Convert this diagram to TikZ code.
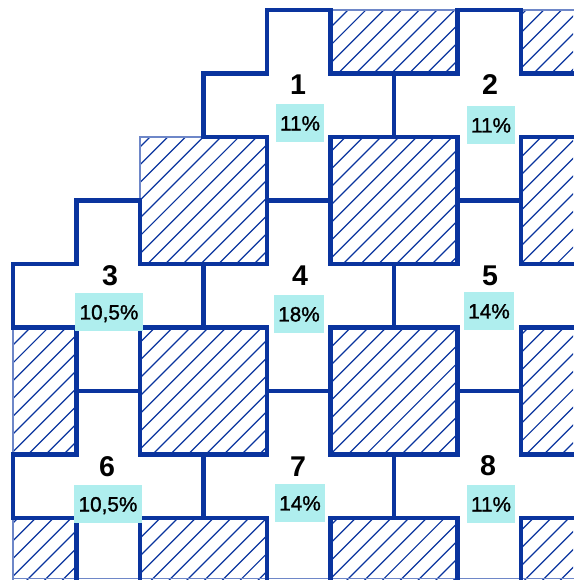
\documentclass[tikz,border=0pt]{standalone}
\usepackage{fontspec}
\setmainfont{Liberation Sans}
\newfontfamily\semiboldsans[FakeBold=1.3]{Liberation Sans}
\definecolor{lineblue}{RGB}{10,52,158}
\definecolor{thinblue}{RGB}{110,135,200}
\definecolor{boxcyan}{RGB}{175,238,238}
\begin{document}
\begin{tikzpicture}[x=1cm,y=-1cm,
  wall/.style={draw=lineblue, line width=1.8pt, line cap=rect, line join=miter},
  thinedge/.style={draw=thinblue, line width=0.6pt},
  hatchline/.style={draw=lineblue, line width=0.55pt},
  cellnum/.style={font=\fontsize{12.8}{15}\selectfont\bfseries, inner sep=0pt},
  share/.style={fill=boxcyan, font=\semiboldsans\fontsize{9.3}{11}\selectfont, inner xsep=1.9pt, inner ysep=0pt,
    text height=6.7pt, text depth=0pt, minimum height=16.8pt}]
\useasboundingbox (-0.2047,-0.1575) rectangle (8.8189,8.9764);

% hatching
\begin{scope}
  \clip (-0.2047,-0.1575) rectangle (8.8189,8.9764);
  \clip (2,2) rectangle (4,4) (5,2) rectangle (7,4) (2,5) rectangle (4,7) (5,5) rectangle (7,7)
        (2,8) rectangle (4,10) (5,8) rectangle (7,10) (8,2) rectangle (10,4) (8,5) rectangle (10,7)
        (8,8) rectangle (10,10) (0,5) rectangle (1,7) (0,8) rectangle (1,10)
        (5,0) rectangle (7,1) (8,0) rectangle (10,1);
  \foreach \k in {0,...,72} {
    \pgfmathsetmacro{\c}{0.237+0.28*\k}
    \draw[hatchline] (\c+1,-1) -- (\c-12,12);
  }
\end{scope}

% thin clip edges
\draw[thinedge] (2,3) -- (2,2) -- (3,2);
\draw[thinedge] (0,5) -- (0,7);
\draw[thinedge] (0,8) -- (0,9);
\draw[thinedge] (5,0) -- (7,0);
\draw[thinedge] (8,0) -- (9,0);
\draw[thinedge] (0,8.955) -- (9,8.955);

% squares and rectangles (thick sides)
\draw[wall] (5,2) rectangle (7,4);
\draw[wall] (2,5) rectangle (4,7);
\draw[wall] (5,5) rectangle (7,7);
\draw[wall] (2,9.3) -- (2,8) -- (4,8) -- (4,9.3);
\draw[wall] (5,9.3) -- (5,8) -- (7,8) -- (7,9.3);
\draw[wall] (9.3,2) -- (8,2) -- (8,4) -- (9.3,4);
\draw[wall] (9.3,5) -- (8,5) -- (8,7) -- (9.3,7);
\draw[wall] (9.3,8) -- (8,8) -- (8,9.3);
\draw[wall] (0,5) -- (1,5) -- (1,7) -- (0,7);
\draw[wall] (0,8) -- (1,8) -- (1,9.3);
\draw[wall] (5,0) -- (5,1) -- (7,1) -- (7,0);
\draw[wall] (8,0) -- (8,1) -- (9.3,1);
\draw[wall] (3,2) -- (4,2) -- (4,4) -- (2,4) -- (2,3);

% staircase outline
\draw[wall] (0,5) -- (0,4) -- (1,4) -- (1,3) -- (2,3);
\draw[wall] (3,2) -- (3,1) -- (4,1) -- (4,0) -- (5,0);
\draw[wall] (7,0) -- (8,0);
\draw[wall] (0,7) -- (0,8);

% dividers
\draw[wall] (6,1) -- (6,2);
\draw[wall] (3,4) -- (3,5);
\draw[wall] (6,4) -- (6,5);
\draw[wall] (3,7) -- (3,8);
\draw[wall] (6,7) -- (6,8);
\draw[wall] (4,3) -- (5,3);
\draw[wall] (7,3) -- (8,3);
\draw[wall] (1,6) -- (2,6);
\draw[wall] (4,6) -- (5,6);
\draw[wall] (7,6) -- (8,6);

% labels
\node[cellnum] (n1) at (4.488,1.181) {1};
\node[cellnum] (n2) at (7.512,1.181) {2};
\node[cellnum] (n3) at (1.528,4.189) {3};
\node[cellnum] (n4) at (4.520,4.189) {4};
\node[cellnum] (n5) at (7.512,4.189) {5};
\node[cellnum] (n6) at (1.480,7.197) {6};
\node[cellnum] (n7) at (4.488,7.197) {7};
\node[cellnum] (n8) at (7.480,7.181) {8};

\node[share] (p1) at (4.520,1.780) {11\%};
\node[share] (p2) at (7.528,1.811) {11\%};
\node[share] (p3) at (1.512,4.756) {10,5\%};
\node[share] (p4) at (4.504,4.787) {18\%};
\node[share] (p5) at (7.496,4.740) {14\%};
\node[share] (p6) at (1.496,7.780) {10,5\%};
\node[share] (p7) at (4.520,7.764) {14\%};
\node[share] (p8) at (7.528,7.780) {11\%};
\end{tikzpicture}
\end{document}
